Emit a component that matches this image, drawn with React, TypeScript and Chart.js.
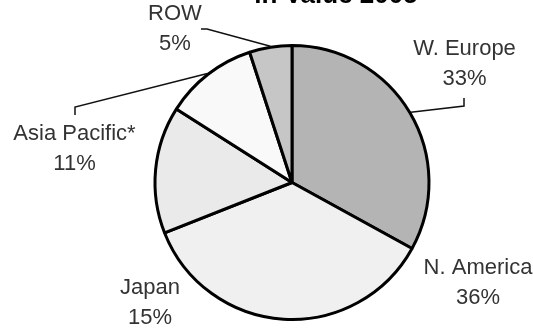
import React, { useEffect, useRef } from "react";
import { Chart, registerables } from "chart.js";

Chart.register(...registerables);

const titleText = "in Value 2005";
const regions = ["W. Europe", "N. America", "Japan", "Asia Pacific*", "ROW"];
const shares = [33, 36, 15, 11, 5];
const sliceColors = ["#b4b4b4", "#f0f0f0", "#eaeaea", "#f9f9f9", "#c6c6c6"];

// label centre offsets from the pie centre (layout only)
const labelOffsets = [
  [172.5, -133.5],
  [186, 85.5],
  [-142, 105.5],
  [-217.5, -48.5],
  [-117, -168.5],
];
// leader lines: elbow offset from pie centre and end offset (null = no leader)
const leaders: (number[][] | null)[] = [
  [[172, -76.5], [172, -84.5]],
  null,
  null,
  [[-217, -75.5], [-217, -67.5]],
  [[-85, -153.5], [-91, -153.5]],
];

const labelPlugin = {
  id: "pieLabels",
  afterDraw(chart: any) {
    const ctx = chart.ctx;
    const meta = chart.getDatasetMeta(0);
    const total = shares.reduce((a, b) => a + b, 0);
    ctx.save();
    // title (clipped at top)
    ctx.fillStyle = "#000";
    ctx.font = "bold 26px 'Liberation Sans', Arial, sans-serif";
    ctx.textAlign = "center";
    ctx.textBaseline = "alphabetic";
    ctx.fillText(titleText, 336, 3);

    meta.data.forEach((arc: any, i: number) => {
      const { x, y, startAngle, endAngle, outerRadius } = arc.getProps(
        ["x", "y", "startAngle", "endAngle", "outerRadius"],
        true
      );
      const mid = (startAngle + endAngle) / 2;
      const lead = leaders[i];
      if (lead) {
        const r = outerRadius + 1;
        ctx.strokeStyle = "#111";
        ctx.lineWidth = 1.5;
        ctx.beginPath();
        ctx.moveTo(x + Math.cos(mid) * r, y + Math.sin(mid) * r);
        ctx.lineTo(x + lead[0][0], y + lead[0][1]);
        ctx.lineTo(x + lead[1][0], y + lead[1][1]);
        ctx.stroke();
      }
      const [dx, dy] = labelOffsets[i];
      const pct = Math.round((shares[i] / total) * 100) + "%";
      ctx.fillStyle = "#333";
      ctx.font = "22px 'Liberation Sans', Arial, sans-serif";
      ctx.textAlign = "center";
      ctx.textBaseline = "middle";
      ctx.fillText(regions[i], x + dx, y + dy);
      ctx.fillText(pct, x + dx, y + dy + 30);
    });
    ctx.restore();
  },
};

export default function App() {
  const ref = useRef<HTMLCanvasElement>(null);
  useEffect(() => {
    if (!ref.current) return;
    const chart = new Chart(ref.current, {
      type: "pie",
      data: {
        labels: regions,
        datasets: [
          {
            data: shares,
            backgroundColor: sliceColors,
            borderColor: "#000",
            borderWidth: 3,
          },
        ],
      },
      options: {
        responsive: false,
        animation: false,
        devicePixelRatio: 1,
        layout: { padding: { left: 153.5, right: 102.5, top: 44, bottom: 8 } },
        plugins: {
          legend: { display: false },
          tooltip: { enabled: false },
          title: { display: false },
        },
      },
      plugins: [labelPlugin],
    });
    return () => chart.destroy();
  }, []);
  return (
    <div style={{ position: "fixed", left: 0, top: 0, width: 533, height: 329, background: "#fff" }}>
      <canvas ref={ref} width={533} height={329} style={{ display: "block" }} />
    </div>
  );
}
